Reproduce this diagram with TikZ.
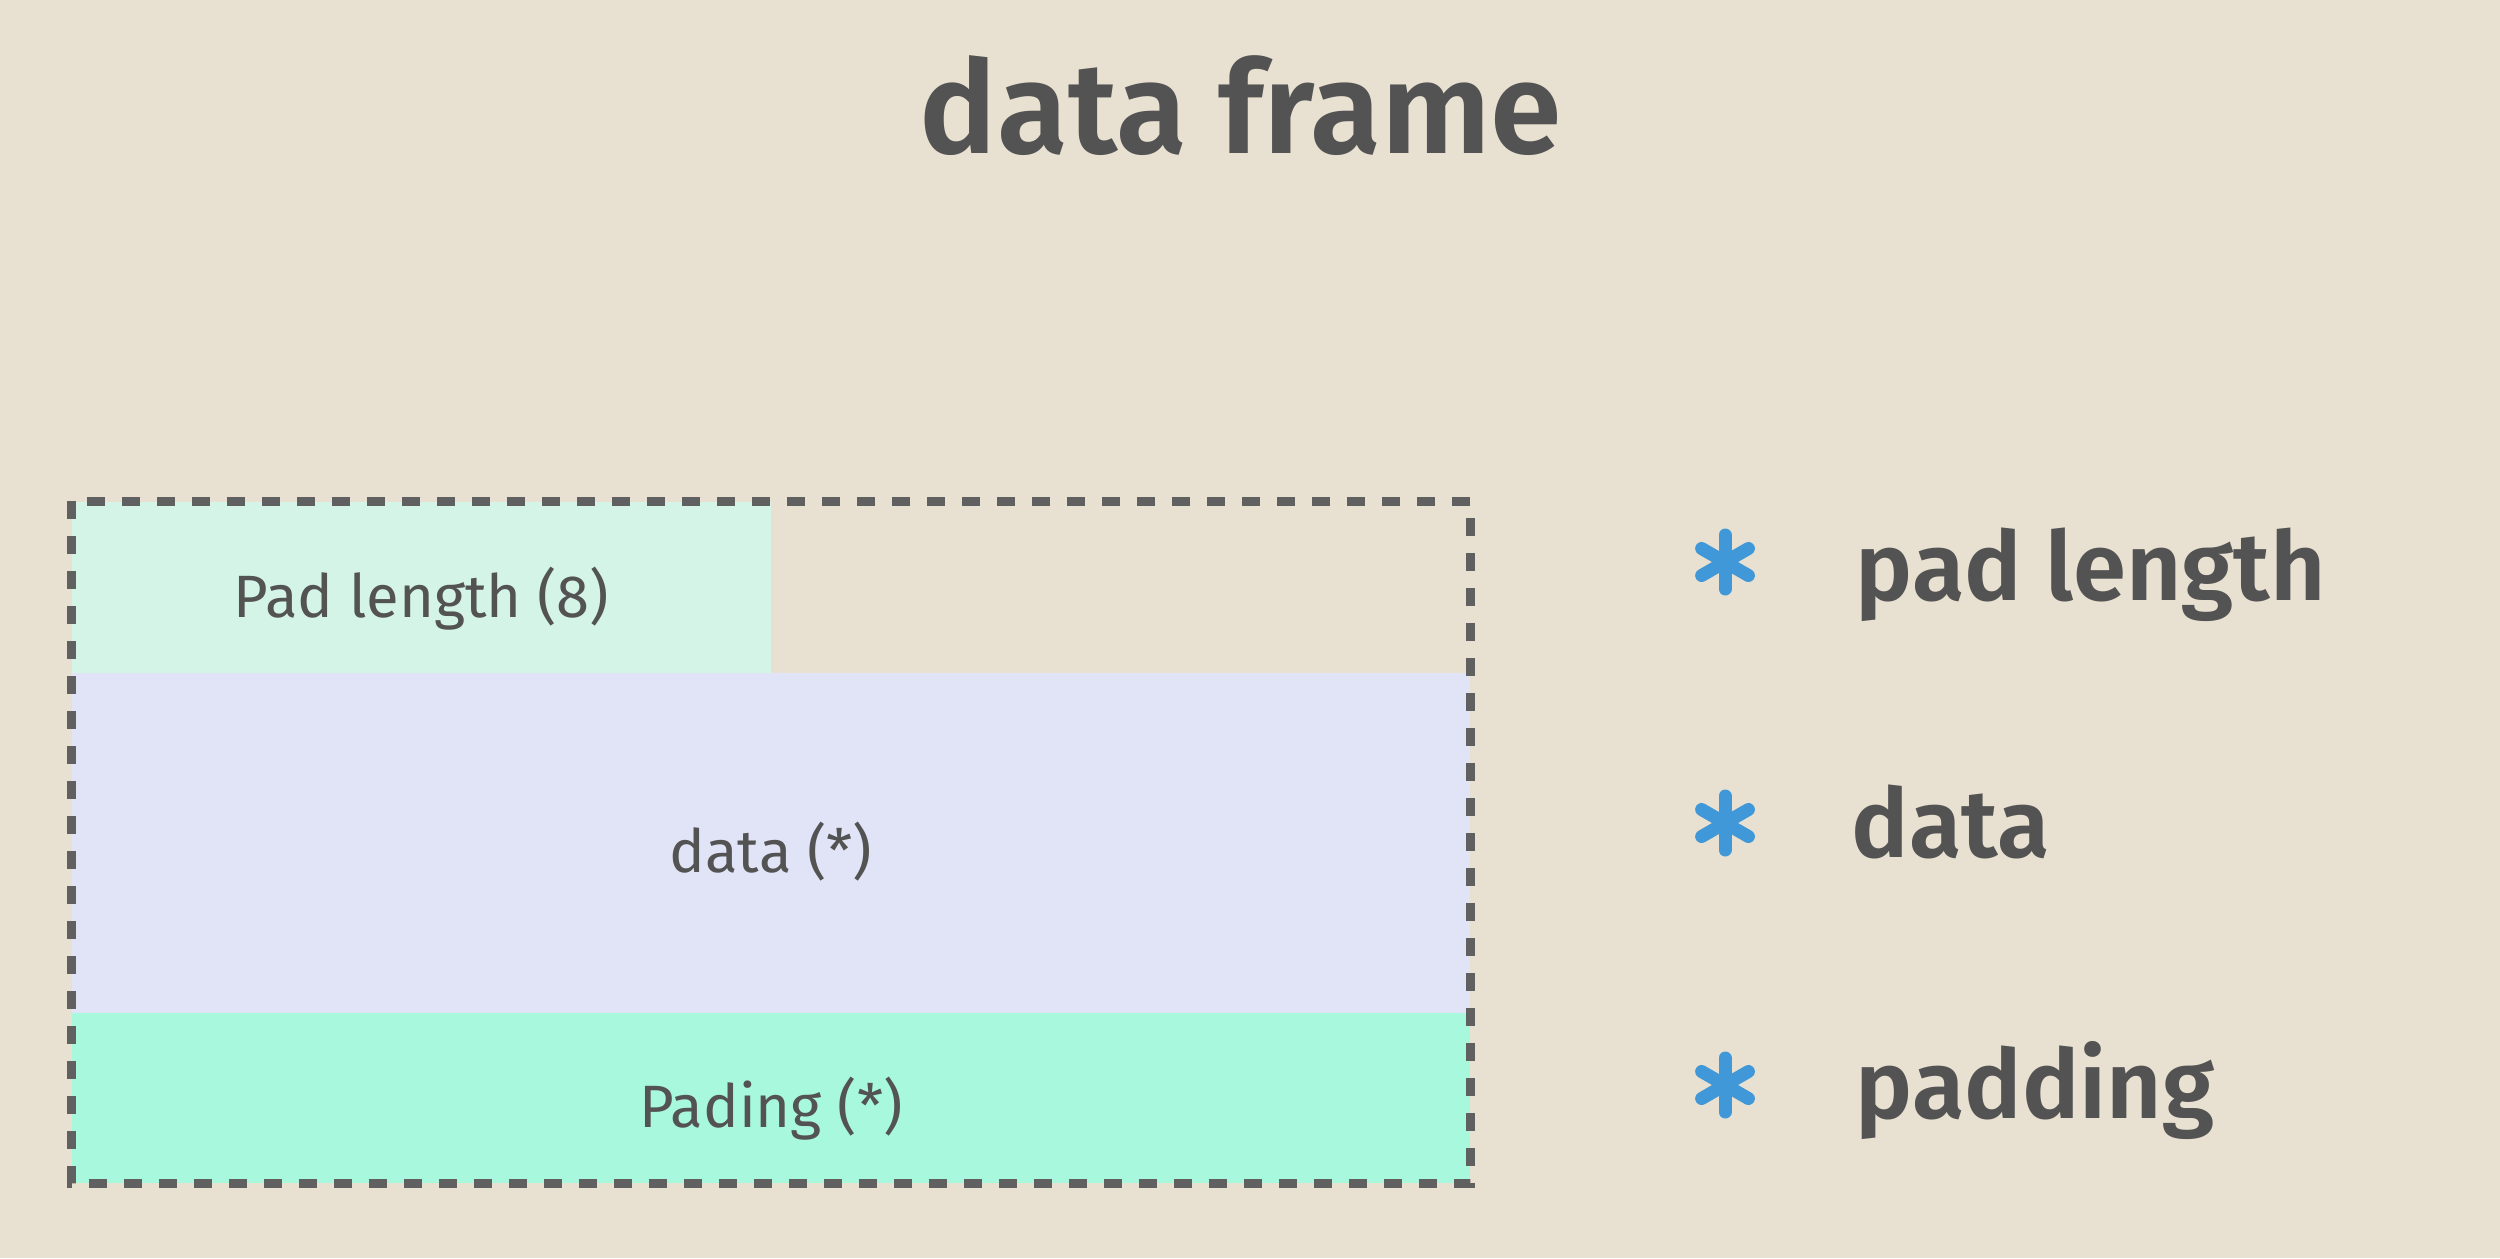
\documentclass[tikz,border=0pt]{standalone}
\usepackage{fontspec}
\setmainfont{Fira Sans}[BoldFont={Fira Sans SemiBold}]
\usetikzlibrary{positioning}

\definecolor{bg}{RGB}{232,224,208}
\definecolor{ink}{RGB}{83,83,83}
\definecolor{frameline}{RGB}{96,96,96}
\definecolor{padlenfill}{RGB}{212,244,232}
\definecolor{datafill}{RGB}{225,228,246}
\definecolor{paddingfill}{RGB}{168,248,222}
\definecolor{bulletblue}{RGB}{64,152,216}

\tikzset{
  region/.style={rectangle, inner sep=0pt, text=ink, text height=21pt, text depth=4pt,
    font=\fontsize{17}{20}\selectfont},
  frameborder/.style={draw=frameline, line width=0.085cm, dash pattern=on 0.18cm off 0.17cm},
  bullet/.style={circle, minimum size=0.9cm, inner sep=0pt,
    path picture={\foreach \a in {90,30,150}
      \draw[bulletblue, line width=0.13cm, line cap=round]
        ([shift={(\a:0.27)}]path picture bounding box.center) --
        ([shift={(\a+180:0.27)}]path picture bounding box.center);}},
  legend/.style={anchor=base west, inner sep=0pt, text=ink, font=\fontsize{27.3}{32}\selectfont\bfseries}
}

\begin{document}
\begin{tikzpicture}

\fill[bg] (0,0) rectangle (25,-12.58);

\node[font=\fontsize{36.8}{44}\selectfont\bfseries, text=ink, anchor=base, inner sep=0pt] (title) at (12.41,-1.53) {data frame};

% frame fields
\node[region, fill=padlenfill, minimum width=6.99cm, minimum height=1.71cm] (padlen) at (4.215,-5.875) {Pad length (8)};
\node[region, fill=datafill, minimum width=13.98cm, minimum height=3.40cm] (data) at (7.71,-8.43) {data (*)};
\node[region, fill=paddingfill, minimum width=13.98cm, minimum height=1.70cm] (padding) at (7.71,-10.98) {Pading (*)};

\draw[frameborder] (padlen.north west) rectangle (padding.south east);

% legend
\node[bullet] (b1) at (17.25,-5.62) {};
\node[bullet] (b2) at (17.25,-8.23) {};
\node[bullet] (b3) at (17.25,-10.85) {};

\node[legend] (l1) at (18.55,-6.00) {pad length};
\node[legend] (l2) at (18.51,-8.57) {data};
\node[legend] (l3) at (18.55,-11.18) {padding};

\end{tikzpicture}
\end{document}
